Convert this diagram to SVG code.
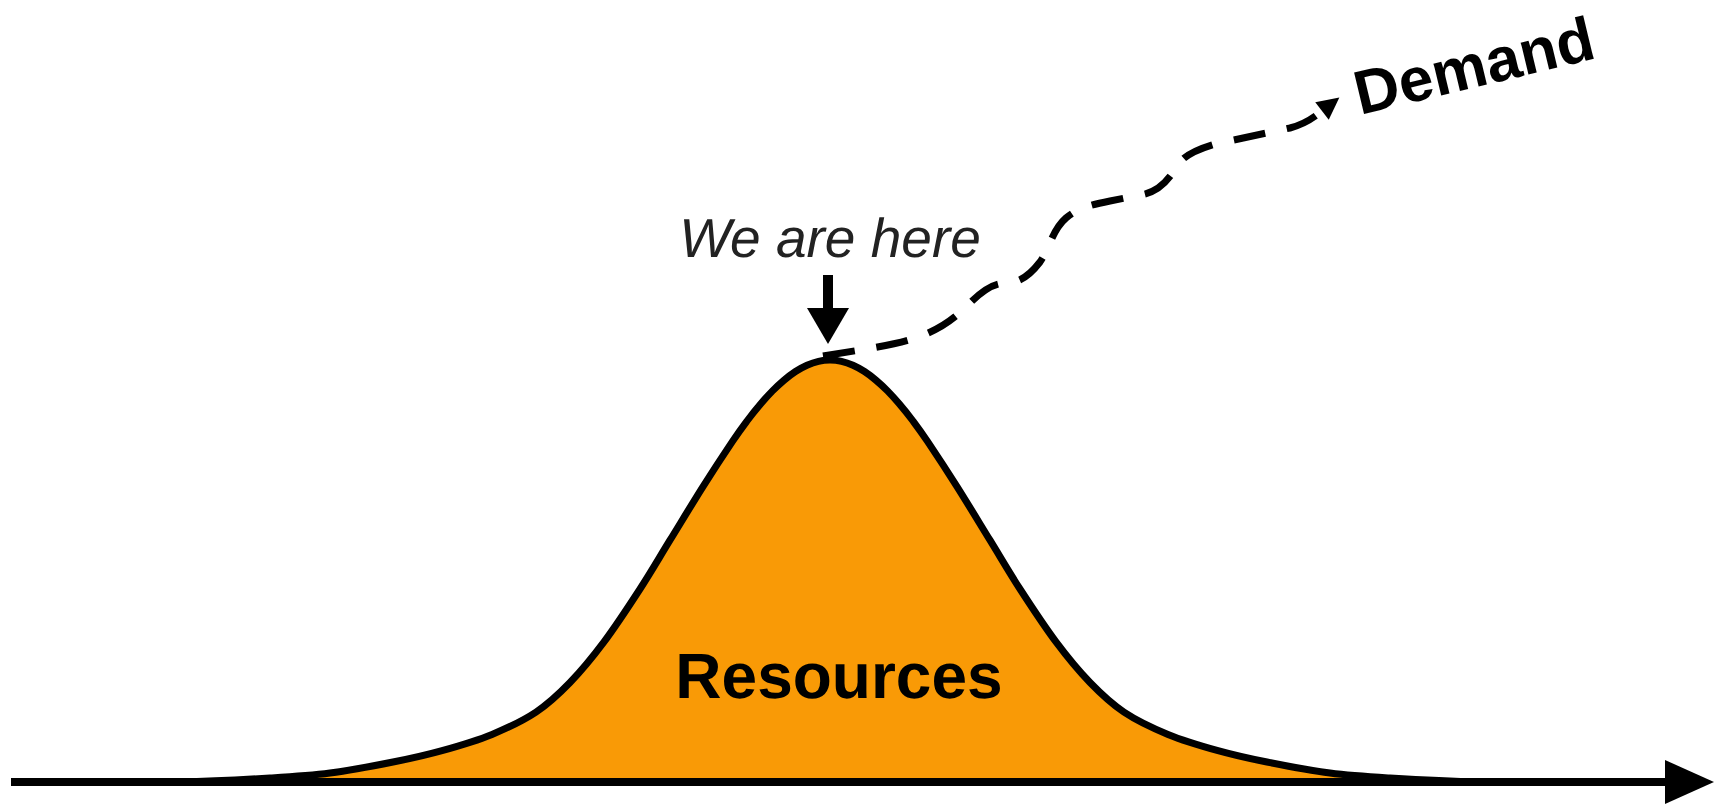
<svg xmlns="http://www.w3.org/2000/svg" width="1723" height="806" viewBox="0 0 1723 806">
  <defs>
    <style>
      .curve { fill: #F99A06; stroke: #000; stroke-width: 7; stroke-linejoin: round; }
      .axis { stroke: #000; stroke-width: 8; fill: none; }
      .dash { stroke: #000; stroke-width: 7; fill: none; stroke-dasharray: 32 22; }
      .label { font-family: "Liberation Sans", Arial, sans-serif; fill: #000; text-rendering: geometricPrecision; }
    </style>
    <marker id="demandHead" markerUnits="userSpaceOnUse" markerWidth="26" markerHeight="26" viewBox="0 -13 24 26" refX="0" refY="0" orient="auto">
      <path d="M0,-11 L22,0 L0,11 Z" fill="#000"/>
    </marker>
  </defs>
  <rect width="1723" height="806" fill="#fff"/>

  <g id="resources">
    <path class="curve" d="M180,782
      C210,781.333 245,779.5 270,778
      C295,776.5 309.5,775.667 330,773
      C350.5,770.333 374.333,765.733 393,762
      C411.667,758.267 425.5,755.2 442,750.6
      C458.5,746 476.333,740.817 492,734.4
      C507.667,727.983 523,720.75 536,712.1
      C549,703.45 558.667,694.2 570,682.5
      C581.333,670.8 592.333,657.483 604,641.9
      C615.667,626.317 629,605.95 640,589
      C651,572.05 659.5,557.267 670,540.2
      C680.5,523.133 692.583,503.067 703,486.6
      C713.417,470.133 725.167,452.333 732.5,441.4
      C739.833,430.467 742.25,427.3 747,421
      C751.75,414.7 756.75,408.617 761,403.6
      C765.25,398.583 768.667,394.8 772.5,390.9
      C776.333,387 780.167,383.433 784,380.2
      C787.833,376.967 791.667,374 795.5,371.5
      C799.333,369 803.167,366.9 807,365.2
      C810.833,363.5 814.667,362.167 818.5,361.3
      C822.333,360.433 826.167,360 830,360
      C833.833,360 837.667,360.433 841.5,361.3
      C845.333,362.167 849.167,363.5 853,365.2
      C856.833,366.9 860.667,369 864.5,371.5
      C868.333,374 872.167,376.967 876,380.2
      C879.833,383.433 883.667,387 887.5,390.9
      C891.333,394.8 894.75,398.583 899,403.6
      C903.25,408.617 908.25,414.7 913,421
      C917.75,427.3 920.167,430.467 927.5,441.4
      C934.833,452.333 946.583,470.133 957,486.6
      C967.417,503.067 979.5,523.133 990,540.2
      C1000.5,557.267 1009,572.05 1020,589
      C1031,605.95 1044.333,626.317 1056,641.9
      C1067.667,657.483 1078.667,670.8 1090,682.5
      C1101.333,694.2 1111,703.45 1124,712.1
      C1137,720.75 1152.333,727.983 1168,734.4
      C1183.667,740.817 1201.5,746 1218,750.6
      C1234.5,755.2 1248.333,758.267 1267,762
      C1285.667,765.733 1309.5,770.333 1330,773
      C1350.5,775.667 1365,776.5 1390,778
      C1415,779.5 1450,781.333 1480,782 Z"/>
    <text class="label" x="839" y="698" font-size="64" font-weight="bold" text-anchor="middle">Resources</text>
  </g>

  <g id="axis">
    <line class="axis" x1="11" y1="782" x2="1668" y2="782"/>
    <polygon points="1665,760 1714,782 1665,804" fill="#000"/>
  </g>

  <g id="we-are-here">
    <text class="label" x="830" y="257" font-size="55" font-style="italic" text-anchor="middle" style="fill:#222">We are here</text>
    <rect x="823" y="275" width="10" height="36" fill="#000"/>
    <polygon points="807,308 849,308 828,344" fill="#000"/>
  </g>

  <g id="demand">
    <text class="label" x="1360" y="115" font-size="62" font-weight="bold" transform="rotate(-13.5 1360 115)">Demand</text>
  </g>

  <g id="connectors">
    <path class="dash" marker-end="url(#demandHead)" d="M823,356 C860,350 895,345 915,338 C940,330 955,318 968,305 C980,293 990,284 1005,283 C1020,283 1030,275 1040,262 C1050,248 1052,230 1066,218 C1078,208 1090,205 1110,201 L1140,195 C1160,192 1168,180 1178,165 C1185,155 1195,150 1215,144 L1290,128 C1305,124 1313,118 1322,111"/>
  </g>
</svg>
